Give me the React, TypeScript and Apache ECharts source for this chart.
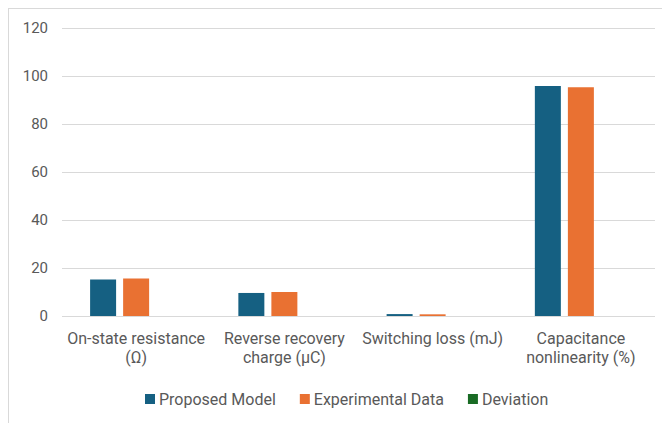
import React, { useEffect, useRef } from "react";
import * as echarts from "echarts";

const categories = [
  "On-state resistance\n(Ω)",
  "Reverse recovery\ncharge (μC)",
  "Switching loss (mJ)",
  "Capacitance\nnonlinearity (%)",
];
const proposedModel = [15.2, 9.6, 0.8, 95.8];
const experimentalData = [15.6, 10.0, 0.7, 95.3];
const deviation = [0, 0, 0, 0];
const seriesNames = ["Proposed Model", "Experimental Data", "Deviation"];
const colors = ["#156082", "#E97132", "#196B24"];

export default function App() {
  const ref = useRef<HTMLDivElement>(null);
  useEffect(() => {
    if (!ref.current) return;
    const chart = echarts.init(ref.current, null, { renderer: "svg" });
    const font = "Roboto, 'Open Sans', sans-serif";
    const values = [proposedModel, experimentalData, deviation];
    chart.setOption({
      animation: false,
      color: colors,
      textStyle: { fontFamily: font },
      grid: { left: 53, right: 15, top: 19, bottom: 107, containLabel: false },
      legend: {
        data: seriesNames,
        top: 377,
        left: 131,
        icon: "rect",
        itemWidth: 10,
        itemHeight: 10,
        itemGap: 24,
        textStyle: { color: "#595959", fontSize: 16, fontFamily: font, padding: [0, 0, 0, -1] },
      },
      xAxis: {
        type: "category",
        data: categories,
        axisLine: { show: false },
        axisTick: { show: false },
        axisLabel: {
          color: "#595959",
          fontSize: 16,
          lineHeight: 19,
          margin: 13,
          interval: 0,
          fontFamily: font,
        },
      },
      yAxis: {
        type: "value",
        min: 0,
        max: 120,
        interval: 20,
        axisLine: { show: false },
        axisTick: { show: false },
        axisLabel: { color: "#595959", fontSize: 15, margin: 14, fontFamily: font },
        splitLine: { lineStyle: { color: "#d9d9d9", width: 1 } },
      },
      series: seriesNames.map((name, i) => ({
        name,
        type: "bar",
        data: values[i],
        barWidth: 26,
        barGap: "27%",
      })),
    });
    return () => chart.dispose();
  }, []);
  return (
    <div
      style={{
        borderTop: "1px solid #d9d9d9",
        borderLeft: "1px solid #d9d9d9",
        width: 661,
        height: 414,
      }}
    >
      <div ref={ref} style={{ width: 661, height: 414 }} />
    </div>
  );
}
